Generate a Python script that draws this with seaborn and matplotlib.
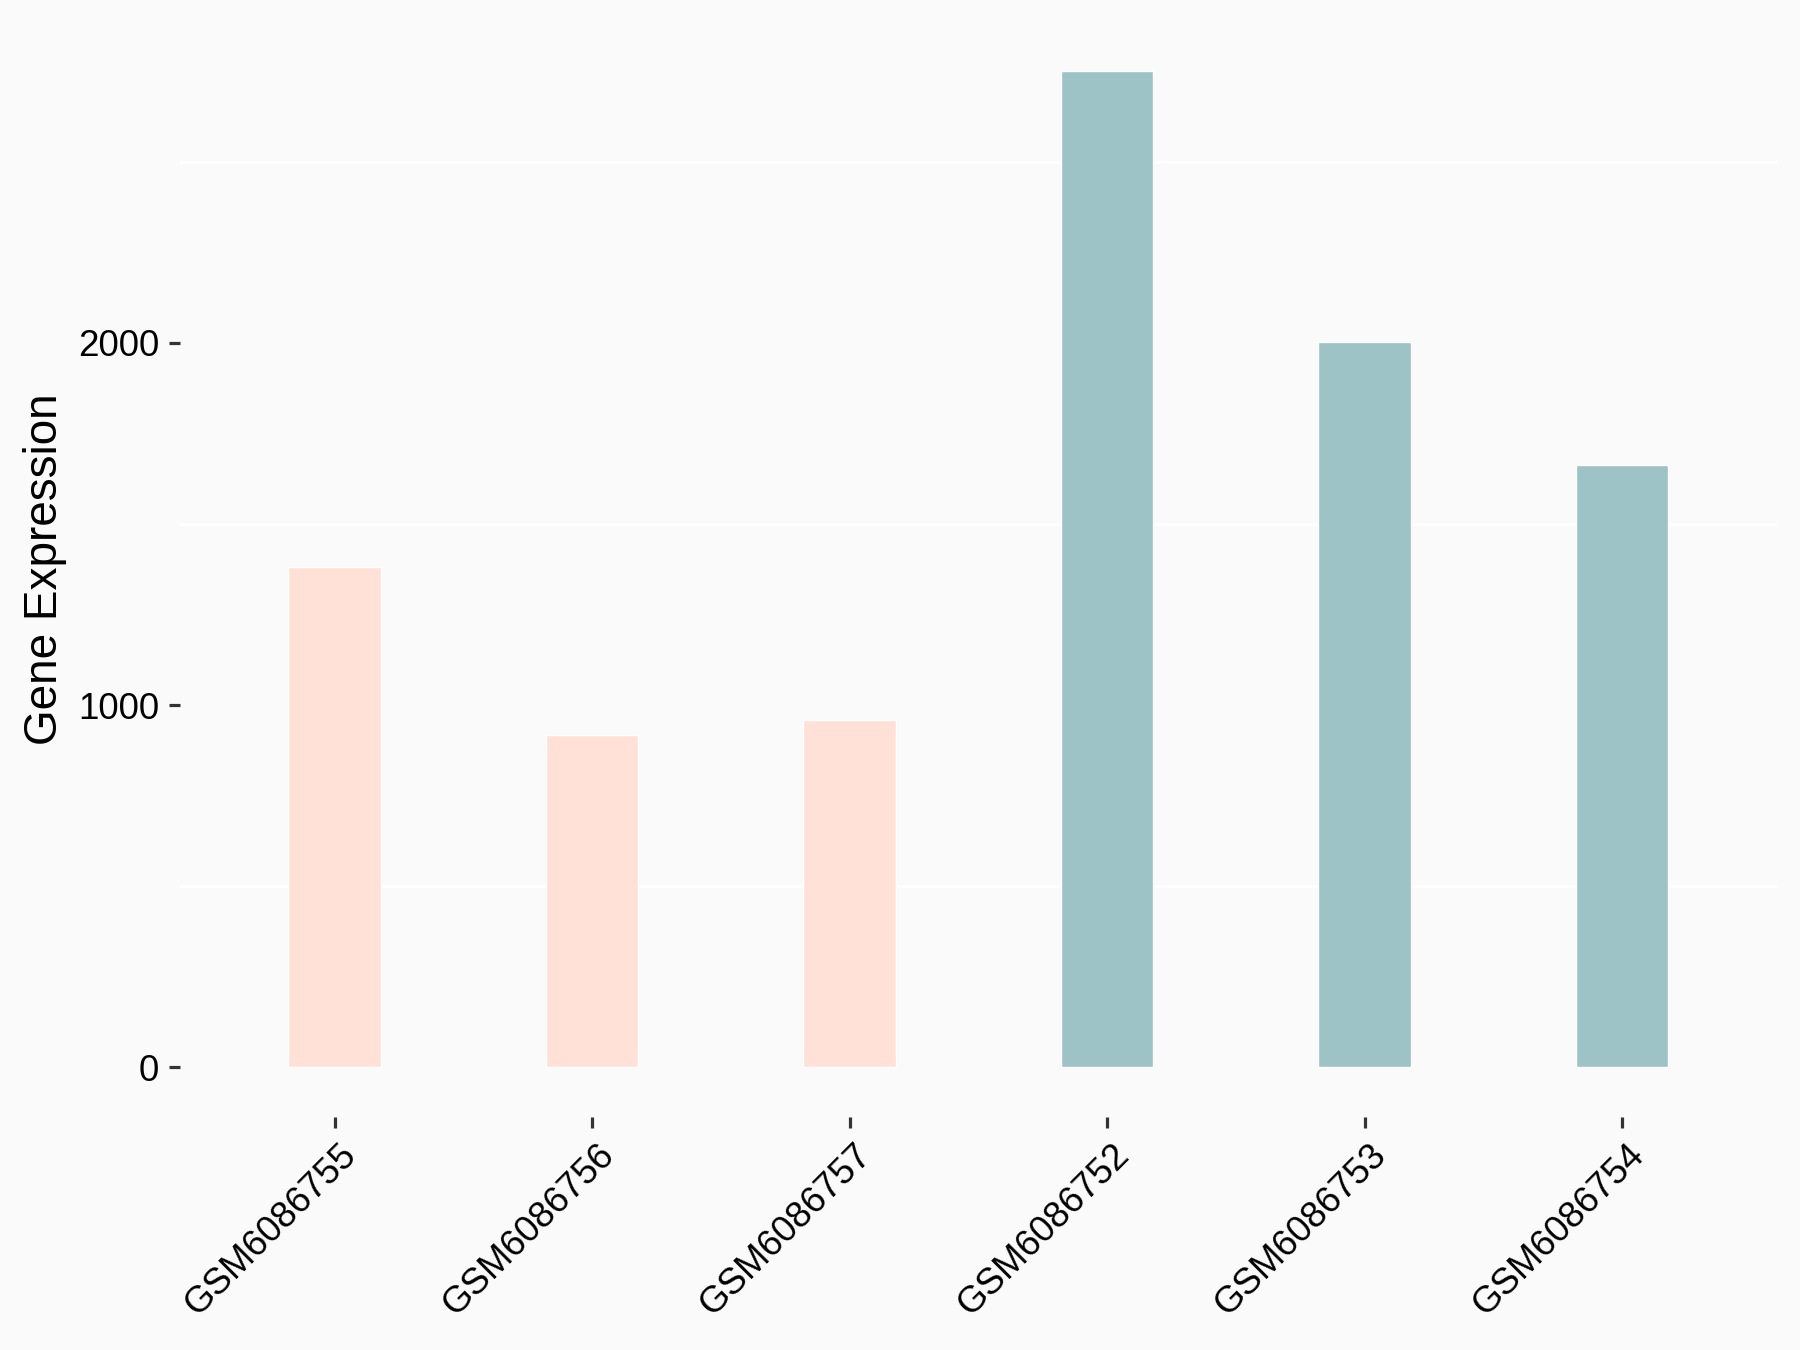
import matplotlib
matplotlib.use("Agg")
import matplotlib.pyplot as plt
import matplotlib.transforms as mtransforms
import seaborn as sns
import pandas as pd

samples = ["GSM6086755", "GSM6086756", "GSM6086757", "GSM6086752", "GSM6086753", "GSM6086754"]
expression = [1381, 917, 958, 2750, 2004, 1664]
groups = ["A", "A", "A", "B", "B", "B"]
group_colors = {"A": "#FFE1D7", "B": "#9DC3C7"}
yticks = [0, 1000, 2000]
grid_lines = [500, 1500, 2500]

df = pd.DataFrame({"sample": samples, "expression": expression, "group": groups})

sns.set_theme(style="white")
plt.rcParams["font.family"] = ["Liberation Sans", "DejaVu Sans"]

fig = plt.figure(figsize=(18, 13.5), dpi=100, facecolor="#FAFAFA")
ax = fig.add_axes([0.100, 0.1726, 0.887, 0.8114])
ax.set_facecolor("#FAFAFA")

for g in grid_lines:
    ax.axhline(g, color="white", lw=2.2, zorder=0)

sns.barplot(data=df, x="sample", y="expression", hue="group", palette=group_colors,
            order=samples, width=0.36, dodge=False, legend=False, ax=ax,
            saturation=1, zorder=2)

ymax = max(expression)
ax.set_ylim(-0.05 * ymax, 1.05 * ymax)
ax.set_xlim(-0.6, len(samples) - 0.4)
ax.set_yticks(yticks)
ax.set_yticklabels([str(t) for t in yticks])

for s in ax.spines.values():
    s.set_visible(False)

ax.tick_params(axis="both", which="major", length=8, width=2.3, color="#333333",
               labelsize=26.5, labelcolor="black", direction="out",
               bottom=True, left=True)
ax.tick_params(axis="y", pad=7)
ax.tick_params(axis="x", pad=7)
ax.set_xlabel("")
ax.set_ylabel("Gene Expression", fontsize=33, color="black", labelpad=8)

offset = mtransforms.ScaledTranslation(4 / 100, 0, fig.dpi_scale_trans)
for lab in ax.get_xticklabels():
    lab.set_rotation(45)
    lab.set_ha("right")
    lab.set_va("top")
    lab.set_rotation_mode("anchor")
    lab.set_transform(lab.get_transform() + offset)

fig.savefig("out.png", dpi=100, facecolor=fig.get_facecolor())
